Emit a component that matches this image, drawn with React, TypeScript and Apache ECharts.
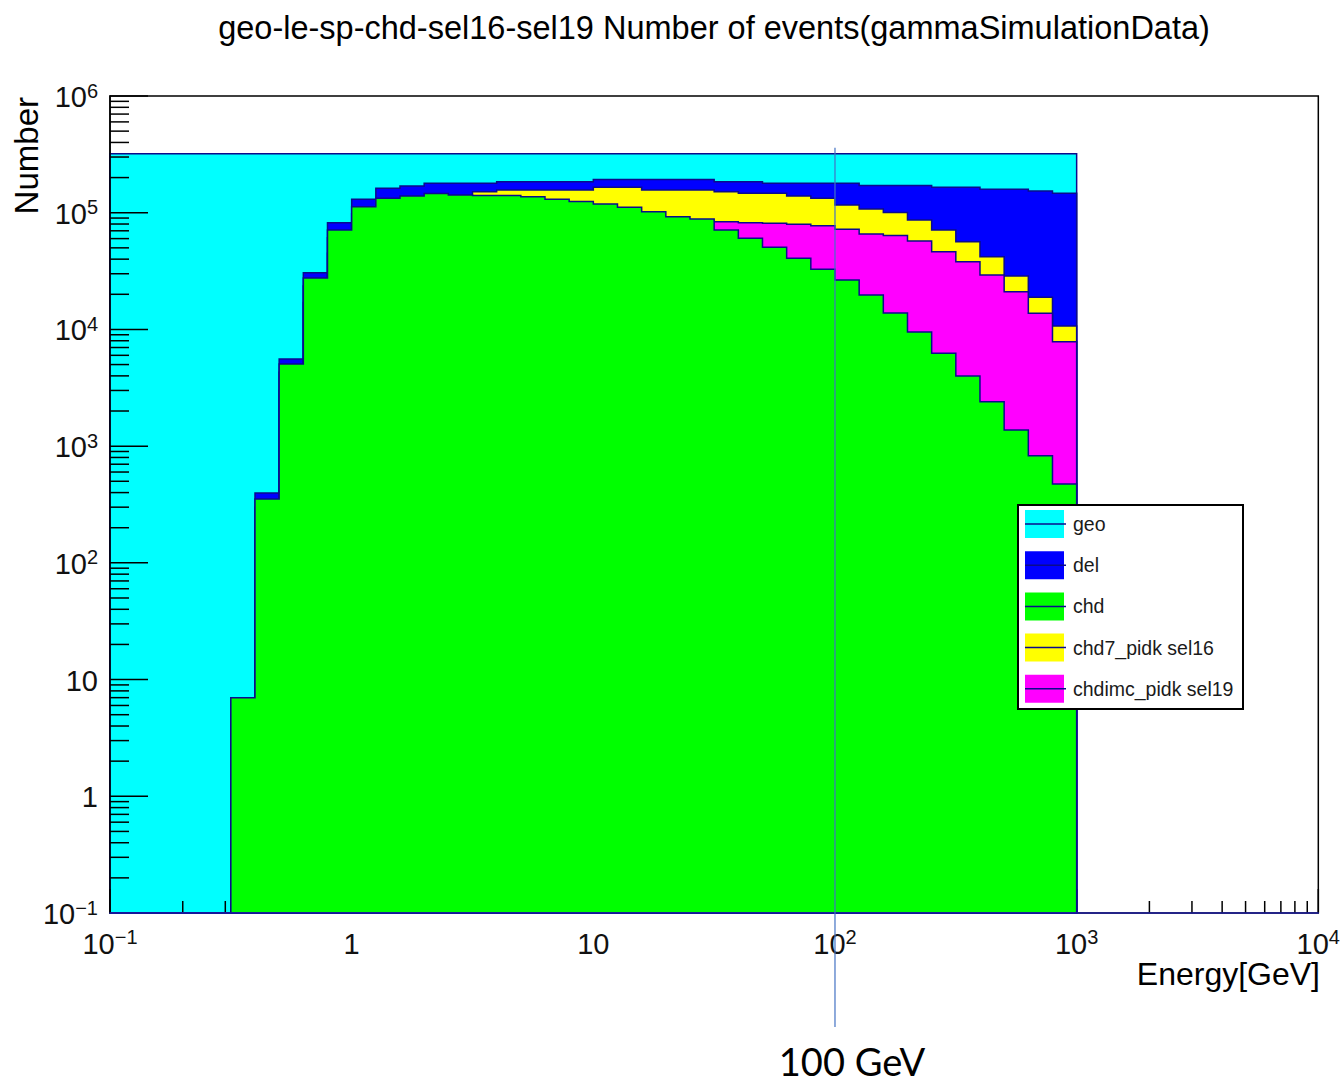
import React, { useEffect, useRef } from "react";
import * as echarts from "echarts";

// Energy bin edges [GeV] (0.1 decade wide bins, 0.1 .. 1000)
const binEdges = [
  0.1, 0.12589, 0.15849, 0.19953, 0.25119, 0.31623, 0.39811, 0.50119, 0.63096, 0.79433,
  1, 1.2589, 1.5849, 1.9953, 2.5119, 3.1623, 3.9811, 5.0119, 6.3096, 7.9433,
  10, 12.589, 15.849, 19.953, 25.119, 31.623, 39.811, 50.119, 63.096, 79.433,
  100, 125.89, 158.49, 199.53, 251.19, 316.23, 398.11, 501.19, 630.96, 794.33,
  1000,
];

const geoCounts = [
  320000, 320000, 320000, 320000, 320000, 320000, 320000, 320000, 320000, 320000,
  320000, 320000, 320000, 320000, 320000, 320000, 320000, 320000, 320000, 320000,
  320000, 320000, 320000, 320000, 320000, 320000, 320000, 320000, 320000, 320000,
  320000, 320000, 320000, 320000, 320000, 320000, 320000, 320000, 320000, 320000,
];

const delCounts = [
  0, 0, 0, 0, 0, 7, 397, 5580, 30600, 82200,
  130300, 162400, 169200, 178600, 178600, 178600, 184500, 184500, 184500, 184500,
  193000, 193000, 193000, 193000, 193000, 184500, 184500, 178600, 178600, 178600,
  178600, 171000, 171000, 171000, 165000, 165000, 158700, 158700, 153300, 146700,
];

const chdCounts = [
  0, 0, 0, 0, 0, 7, 352, 5055, 27580, 71100,
  112600, 132900, 139100, 146100, 141800, 140400, 140400, 137200, 130300, 124800,
  118700, 111300, 102000, 92400, 88300, 71100, 60360, 50500, 40680, 32750,
  26510, 19720, 13830, 9500, 6244, 3990, 2403, 1375, 828, 474,
];

const chd7Counts = [
  0, 0, 0, 0, 0, 5, 300, 4300, 23500, 61000,
  98000, 118000, 126000, 133000, 137000, 151400, 156500, 156500, 156500, 156500,
  165000, 165000, 156500, 156500, 156500, 151400, 146700, 146700, 139100, 132900,
  116500, 107600, 100400, 86600, 71100, 56440, 42000, 28690, 18850, 10700,
];

const chdimcCounts = [
  0, 0, 0, 0, 0, 3, 200, 3000, 17000, 45000,
  68000, 80000, 85000, 88000, 89000, 89000, 88000, 87000, 86500, 86000,
  85500, 85000, 84500, 84000, 84000, 83750, 82200, 81170, 79570, 77390,
  72090, 65700, 63780, 57230, 46350, 38040, 29260, 21050, 13750, 7850,
];

const legendNames = ["geo", "del", "chd", "chd7_pidk sel16", "chdimc_pidk sel19"];
const legendColors = ["#00ffff", "#0000ff", "#00ff00", "#ffff00", "#ff00ff"];

const xTickLabels: [string, string][] = [
  ["10", "\u22121"], ["1", ""], ["10", ""], ["10", "2"], ["10", "3"], ["10", "4"],
];
const yTickLabels: [string, string][] = [
  ["10", "\u22121"], ["1", ""], ["10", ""], ["10", "2"], ["10", "3"], ["10", "4"], ["10", "5"], ["10", "6"],
];

const titleText = "geo-le-sp-chd-sel16-sel19 Number of events(gammaSimulationData)";
const xTitle = "Energy[GeV]";
const yTitle = "Number";
const markerEnergy = 100;
const markerTop = 360000;
const markerText = "100 GeV";

const X_MIN = 0.1, X_MAX = 10000, Y_MIN = 0.1, Y_MAX = 1e6;
const FONT = '"Liberation Sans", Arial, Helvetica, sans-serif';
const OUTLINE = "#0b0b8c";

function histSeries(name: string, counts: number[], color: string) {
  const data = counts.map((c, i) => [binEdges[i], c > 0 ? c : Y_MIN, binEdges[i + 1]]);
  return {
    type: "custom",
    name,
    silent: true,
    encode: { x: [0, 2], y: 1 },
    data,
    renderItem: (params: any, api: any) => {
      if (params.dataIndex !== 0) return null;
      const n = data.length;
      const base = api.coord([api.value(0, 0), Y_MIN])[1];
      const pts: number[][] = [];
      pts.push([api.coord([api.value(0, 0), Y_MIN])[0], base]);
      for (let i = 0; i < n; i++) {
        const lo = api.coord([api.value(0, i), api.value(1, i)]);
        const hi = api.coord([api.value(2, i), api.value(1, i)]);
        pts.push([lo[0], lo[1]]);
        pts.push([hi[0], hi[1]]);
      }
      pts.push([api.coord([api.value(2, n - 1), Y_MIN])[0], base]);
      return {
        type: "polygon",
        shape: { points: pts },
        style: { fill: color, stroke: OUTLINE, lineWidth: 1.5, lineJoin: "miter" },
      };
    },
  };
}

function decadeTicks(lo: number, hi: number) {
  const out: number[][] = [];
  for (let e = lo; e <= hi; e++) {
    const d = Math.pow(10, e);
    out.push([d, 1]);
    if (e < hi) for (let m = 2; m <= 9; m++) out.push([m * d, 0]);
  }
  return out;
}

function fmt(labels: [string, string][]) {
  return (v: number) => {
    const e = Math.round(Math.log10(v));
    const l = labels[e + 1];
    if (!l) return "";
    return l[1] ? `{b|${l[0]}}{s|${l[1]}}` : `{b|${l[0]}}`;
  };
}

const rich = {
  b: { fontFamily: FONT, fontSize: 29, color: "#111", lineHeight: 31, verticalAlign: "bottom" },
  s: { fontFamily: FONT, fontSize: 20, color: "#111", lineHeight: 20, verticalAlign: "top" },
};

export default function App() {
  const ref = useRef<HTMLDivElement>(null);
  useEffect(() => {
    if (!ref.current) return;
    const chart = echarts.init(ref.current, null, { renderer: "svg" });

    const yTicks = decadeTicks(-1, 6).map(([v, m]) => [X_MIN, v, m]);
    const xTicks = decadeTicks(-1, 4).map(([v, m]) => [v, Y_MIN, m]);

    const legendGraphics: any[] = [
      {
        type: "rect",
        z: 100,
        shape: { x: 1018, y: 505, width: 225, height: 204 },
        style: { fill: "#fff", stroke: "#000", lineWidth: 2 },
      },
    ];
    legendNames.forEach((nm, i) => {
      const cy = 524 + i * 41.2;
      legendGraphics.push(
        { type: "rect", z: 101, shape: { x: 1025, y: cy - 14, width: 39, height: 28 }, style: { fill: legendColors[i] } },
        { type: "line", z: 102, shape: { x1: 1025, y1: cy, x2: 1066, y2: cy }, style: { stroke: OUTLINE, lineWidth: 1.5 } },
        {
          type: "text", z: 102, x: 1073, y: cy,
          style: { text: nm, fontFamily: FONT, fontSize: 19.5, fill: "#1a1a1a", align: "left", verticalAlign: "middle" },
        }
      );
    });

    const option: any = {
      animation: false,
      backgroundColor: "#ffffff",
      grid: {
        left: 110, top: 96, right: 23, bottom: 174,
        show: true, borderColor: "#000", borderWidth: 1.5, backgroundColor: "transparent",
      },
      xAxis: {
        type: "log", logBase: 10, min: X_MIN, max: X_MAX, splitNumber: 5, z: 10,
        axisLine: { show: true, onZero: false, lineStyle: { color: "#1c1ca0", width: 1.5 } },
        axisTick: { show: false }, splitLine: { show: false }, minorTick: { show: false },
        axisLabel: { margin: 14, formatter: fmt(xTickLabels), rich, showMinLabel: true, showMaxLabel: true },
      },
      yAxis: {
        type: "log", logBase: 10, min: Y_MIN, max: Y_MAX, splitNumber: 7, z: 10,
        axisLine: { show: true, onZero: false, lineStyle: { color: "#000", width: 1.5 } },
        axisTick: { show: false }, splitLine: { show: false }, minorTick: { show: false },
        axisLabel: { margin: 12, formatter: fmt(yTickLabels), rich, showMinLabel: true, showMaxLabel: true },
      },
      series: [
        histSeries("geo", geoCounts, legendColors[0]),
        {
          type: "custom", name: "yticks", silent: true, data: yTicks,
          renderItem: (params: any, api: any) => {
            const p = api.coord([api.value(0), api.value(1)]);
            const len = api.value(2) ? 38 : 19;
            return { type: "line", shape: { x1: p[0], y1: p[1], x2: p[0] + len, y2: p[1] }, style: { stroke: "#000", lineWidth: 1.5 } };
          },
        },
        {
          type: "custom", name: "xticks", silent: true, data: xTicks,
          renderItem: (params: any, api: any) => {
            const p = api.coord([api.value(0), api.value(1)]);
            const len = api.value(2) ? 24 : 12;
            return { type: "line", shape: { x1: p[0], y1: p[1], x2: p[0], y2: p[1] - len }, style: { stroke: "#000", lineWidth: 1.5 } };
          },
        },
        histSeries("del", delCounts, legendColors[1]),
        histSeries("chd7_pidk sel16", chd7Counts, legendColors[3]),
        histSeries("chdimc_pidk sel19", chdimcCounts, legendColors[4]),
        histSeries("chd", chdCounts, legendColors[2]),
        {
          type: "custom", name: "marker", silent: true, z: 20, clip: false,
          data: [[markerEnergy, markerTop]],
          renderItem: (params: any, api: any) => {
            const top = api.coord([api.value(0), api.value(1)]);
            const bot = api.coord([api.value(0), Y_MIN]);
            return {
              type: "group",
              children: [
                { type: "line", shape: { x1: top[0], y1: top[1], x2: top[0], y2: bot[1] + 114 }, style: { stroke: "#4472c4", lineWidth: 1.2 } },
                {
                  type: "text", x: top[0] + 17, y: bot[1] + 148,
                  style: { text: markerText, fontFamily: "Lato, 'Open Sans', sans-serif", fontSize: 38, fill: "#000", align: "center", verticalAlign: "middle" },
                },
              ],
            };
          },
        },
      ],
      graphic: [
        {
          type: "text", x: 714, y: 28, z: 100,
          style: { text: titleText, fontFamily: FONT, fontSize: 32.5, fill: "#000", align: "center", verticalAlign: "middle" },
        },
        {
          type: "text", x: 1320, y: 974, z: 100,
          style: { text: xTitle, fontFamily: FONT, fontSize: 32, fill: "#000", align: "right", verticalAlign: "middle" },
        },
        {
          type: "text", x: 26, y: 97, rotation: Math.PI / 2, z: 100,
          style: { text: yTitle, fontFamily: FONT, fontSize: 33, fill: "#000", align: "right", verticalAlign: "middle" },
        },
        ...legendGraphics,
      ],
    };
    chart.setOption(option);
    return () => chart.dispose();
  }, []);
  return <div ref={ref} style={{ position: "fixed", left: 0, top: 0, width: 1343, height: 1087 }} />;
}
